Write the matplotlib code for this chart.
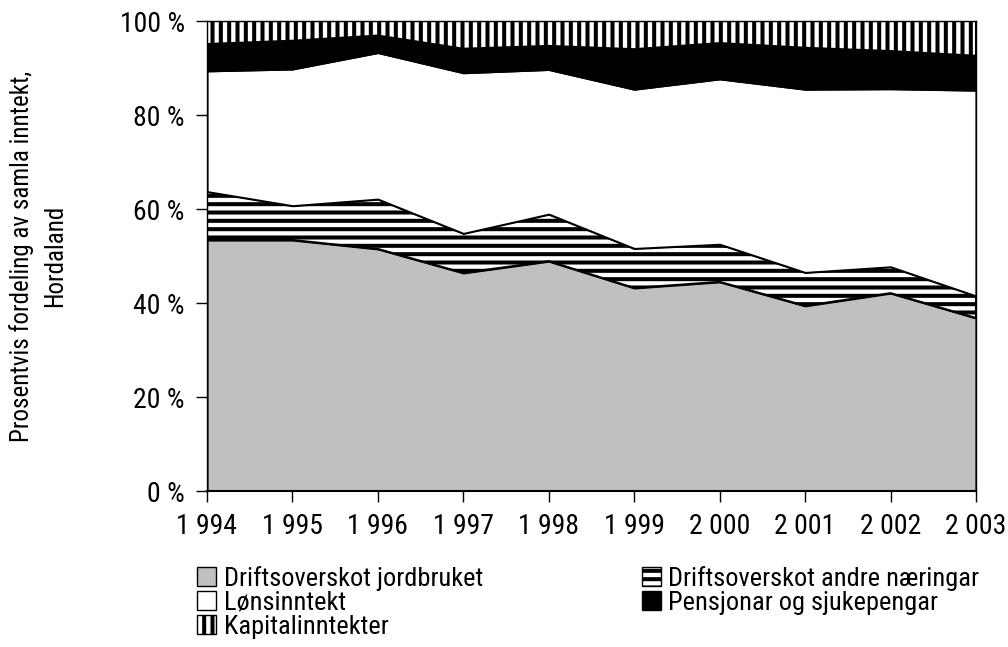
import matplotlib
matplotlib.use("Agg")
import matplotlib.pyplot as plt
from matplotlib.patches import Patch
import numpy as np

years = [1994, 1995, 1996, 1997, 1998, 1999, 2000, 2001, 2002, 2003]
year_labels = ["1 994", "1 995", "1 996", "1 997", "1 998", "1 999", "2 000", "2 001", "2 002", "2 003"]

jordbruket = [53.4, 53.4, 51.5, 46.4, 48.9, 43.2, 44.5, 39.4, 42.1, 36.8]
andre_naeringar = [10.3, 7.3, 10.6, 8.4, 10.0, 8.4, 8.0, 7.1, 5.6, 4.7]
lonsinntekt = [25.7, 29.1, 31.2, 34.2, 30.8, 33.9, 35.2, 39.0, 37.9, 43.8]
pensjonar = [5.7, 6.0, 3.6, 5.1, 5.0, 8.5, 7.6, 8.8, 8.0, 7.3]
kapital = [4.9, 4.2, 3.1, 5.9, 5.3, 6.0, 4.7, 5.7, 6.4, 7.4]

names = ["Driftsoverskot jordbruket", "Driftsoverskot andre næringar", "Lønsinntekt",
         "Pensjonar og sjukepengar", "Kapitalinntekter"]
yticks = [0, 20, 40, 60, 80, 100]
ylabel = "Prosentvis fordeling av samla inntekt,\nHordaland"

plt.rcParams["font.family"] = ["Roboto Condensed", "DejaVu Sans"]
plt.rcParams["hatch.linewidth"] = 2.9
plt.rcParams["hatch.color"] = "black"

fig = plt.figure(figsize=(10.08, 6.47), dpi=100)
ax = fig.add_axes([207/1008, 1 - 491/647, (976-207)/1008, (491-21)/647])

x = np.arange(len(years))
series = [jordbruket, andre_naeringar, lonsinntekt, pensjonar, kapital]
faces = ["#c0c0c0", "white", "white", "black", "white"]
hatches = [None, "--", None, None, "||"]

bottom = np.zeros(len(years))
for vals, fc, h in zip(series, faces, hatches):
    top = bottom + np.array(vals)
    ax.fill_between(x, bottom, top, facecolor=fc, edgecolor="black", hatch=h, linewidth=1.5)
    bottom = top

ax.set_xlim(0, len(years) - 1)
ax.set_ylim(0, 100)
ax.set_xticks(x)
ax.set_xticklabels(year_labels, fontsize=20)
ax.set_yticks(yticks)
ax.set_yticklabels([f"{v} %" for v in yticks], fontsize=20)
ax.tick_params(axis="x", direction="out", length=8, width=1, pad=8)
ax.tick_params(axis="y", direction="out", length=8, width=1, pad=8)
for s in ax.spines.values():
    s.set_linewidth(1)
ax.spines["bottom"].set_linewidth(1.5)
ax.set_ylabel(ylabel, fontsize=18, labelpad=38, linespacing=1.45)

handles = [Patch(facecolor=fc, edgecolor="black", hatch=h, linewidth=1)
           for fc, h in zip(faces, hatches)]
order = [0, 2, 4, 1, 3]
leg = fig.legend([handles[i] for i in order], [names[i] for i in order],
                 ncol=2, loc="upper left", bbox_to_anchor=(197/1008, 1 - 566/647),
                 frameon=False, fontsize=19, handlelength=0.72, handleheight=0.72,
                 handletextpad=0.3, labelspacing=0.0, columnspacing=6.0,
                 borderpad=0, borderaxespad=0)

fig.savefig("out.png", dpi=100)
